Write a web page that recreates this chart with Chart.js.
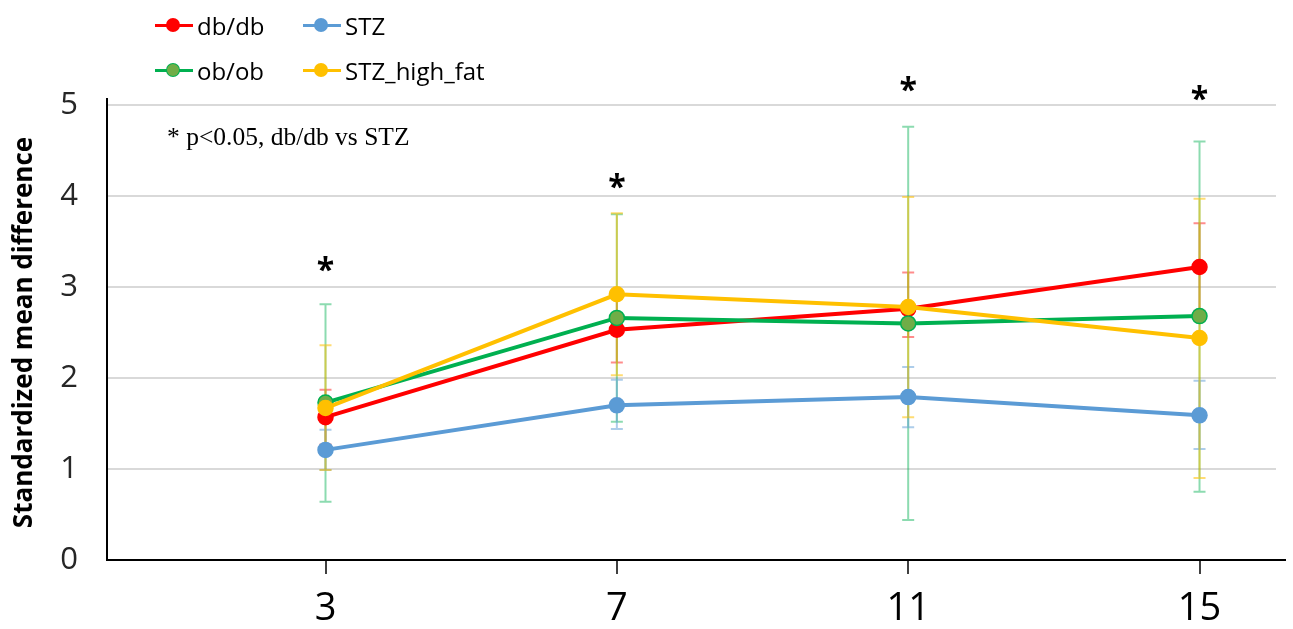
<!DOCTYPE html>
<html>
<head>
<meta charset="utf-8">
<title>Standardized mean difference by week</title>
<script src="https://cdn.jsdelivr.net/npm/chart.js@4.4.1/dist/chart.umd.min.js"></script>
<style>
  html, body { margin: 0; padding: 0; background: #fff; }
  #wrap { position: relative; width: 1293px; height: 629px; }
  #chart { position: absolute; left: 0; top: 0; }
  .leg { position: absolute; height: 34px; display: flex; align-items: center; white-space: nowrap;
         font-family: 'Open Sans', sans-serif; font-size: 24px; color: #000; }
  .leg .sw { position: relative; width: 38px; height: 14px; margin-right: 4px; }
  .leg .sw i { position: absolute; left: 0; right: 0; top: 5.5px; height: 3px; }
  .leg .sw b { position: absolute; left: 12px; top: 1px; width: 12px; height: 12px; border-radius: 50%; }
  #note { position: absolute; left: 167px; top: 122px; font-family: 'Liberation Serif', 'Times New Roman', serif;
          font-size: 25.5px; color: #000; white-space: nowrap; }
</style>
</head>
<body>
<div id="wrap">
  <canvas id="chart" width="1293" height="629"></canvas>
  <div id="legend"></div>
  <div id="note">* p&lt;0.05, db/db vs STZ</div>
</div>
<script>
// weeks after induction
const weeks = [3, 7, 11, 15];

// means and error bar ends
const dbdbMean = [1.57, 2.53, 2.76, 3.22];
const dbdbHi   = [1.87, 2.89, 3.16, 3.70];
const dbdbLo   = [1.27, 2.17, 2.45, 2.74];

const obobMean = [1.73, 2.66, 2.60, 2.68];
const obobHi   = [2.81, 3.80, 4.76, 4.60];
const obobLo   = [0.64, 1.52, 0.44, 0.75];

const stzMean  = [1.21, 1.70, 1.79, 1.59];
const stzHi    = [1.43, 1.98, 2.12, 1.97];
const stzLo    = [0.99, 1.44, 1.46, 1.22];

const hfMean   = [1.67, 2.92, 2.78, 2.44];
const hfHi     = [2.36, 3.81, 3.99, 3.97];
const hfLo     = [0.99, 2.03, 1.57, 0.90];

// significance marks (height in y units)
const starY = [3.26, 4.18, 5.24, 5.14];

const yTicks = [0, 1, 2, 3, 4, 5];

function pts(vals) {
    return vals.map((v, i) => ({ x: weeks[i], y: v }));
}

const series = [
    { label: 'db/db', mean: dbdbMean, hi: dbdbHi, lo: dbdbLo, line: '#FF0000', fill: '#FF0000', err: 'rgba(255,0,0,0.45)', order: 3 },
    { label: 'ob/ob', mean: obobMean, hi: obobHi, lo: obobLo, line: '#00B050', fill: '#70AD47', err: 'rgba(0,176,80,0.45)', order: 2 },
    { label: 'STZ', mean: stzMean, hi: stzHi, lo: stzLo, line: '#5B9BD5', fill: '#5B9BD5', err: 'rgba(91,155,213,0.5)', order: 1 },
    { label: 'STZ_high_fat', mean: hfMean, hi: hfHi, lo: hfLo, line: '#FFC000', fill: '#FFC000', err: 'rgba(255,192,0,0.55)', order: 0 }
];

// legend as html, 2 x 2 grid (db/db, STZ on top row)
const legendPos = [[155, 8], [155, 53], [303, 8], [303, 53]];
const legendBox = document.getElementById('legend');
series.forEach((s, k) => {
    const el = document.createElement('div');
    el.className = 'leg';
    el.style.left = legendPos[k][0] + 'px';
    el.style.top = legendPos[k][1] + 'px';
    el.innerHTML = '<span class="sw"><i style="background:' + s.line + '"></i><b style="background:' + s.fill +
        ';box-shadow:0 0 0 1px ' + s.line + '"></b></span>' + s.label;
    legendBox.appendChild(el);
});

const errorBars = {
    id: 'errorBars',
    beforeDatasetsDraw(chart) {
        const ctx = chart.ctx;
        const xs = chart.scales.x, ys = chart.scales.y;
        chart.data.datasets.forEach(ds => {
            ctx.save();
            ctx.strokeStyle = ds.errColor;
            ctx.lineWidth = 2;
            ds.errHi.forEach((hi, i) => {
                const x = xs.getPixelForValue(weeks[i]);
                const yh = ys.getPixelForValue(hi);
                const yl = ys.getPixelForValue(ds.errLo[i]);
                ctx.beginPath();
                ctx.moveTo(x, yh); ctx.lineTo(x, yl);
                ctx.moveTo(x - 6, yh); ctx.lineTo(x + 6, yh);
                ctx.moveTo(x - 6, yl); ctx.lineTo(x + 6, yl);
                ctx.stroke();
            });
            ctx.restore();
        });
    }
};

const extras = {
    id: 'extras',
    afterDraw(chart) {
        const ctx = chart.ctx;
        const xs = chart.scales.x, ys = chart.scales.y;
        const area = chart.chartArea;
        ctx.save();
        // axis lines run a little past the plot area
        ctx.strokeStyle = '#000';
        ctx.lineWidth = 2;
        ctx.beginPath();
        ctx.moveTo(area.right - 2, area.bottom);
        ctx.lineTo(area.right + 10, area.bottom);
        ctx.moveTo(area.left, area.top + 2);
        ctx.lineTo(area.left, area.top - 7);
        ctx.stroke();
        // asterisks
        ctx.fillStyle = '#000';
        ctx.font = 'bold 32px "Open Sans"';
        ctx.textAlign = 'center';
        ctx.textBaseline = 'alphabetic';
        starY.forEach((v, i) => {
            ctx.fillText('*', xs.getPixelForValue(weeks[i]), ys.getPixelForValue(v) + 18);
        });
        ctx.restore();
    }
};

const ctx = document.getElementById('chart').getContext('2d');
new Chart(ctx, {
    type: 'line',
    data: {
        datasets: series.map(s => ({
            label: s.label,
            data: pts(s.mean),
            borderColor: s.line,
            backgroundColor: s.fill,
            pointBackgroundColor: s.fill,
            pointBorderColor: s.line,
            pointBorderWidth: 1.5,
            pointRadius: 7.5,
            borderWidth: 4,
            tension: 0,
            order: s.order,
            errHi: s.hi,
            errLo: s.lo,
            errColor: s.err
        }))
    },
    options: {
        responsive: false,
        animation: false,
        layout: { padding: { top: 105, right: 17, left: 0, bottom: 0 } },
        plugins: {
            legend: { display: false },
            tooltip: { enabled: false }
        },
        scales: {
            x: {
                type: 'linear',
                min: 0,
                max: 16.05,
                afterBuildTicks: scale => { scale.ticks = weeks.map(w => ({ value: w })); },
                afterFit: scale => { scale.height = 69; },
                grid: { drawOnChartArea: false, tickLength: 14, color: '#404040', lineWidth: 2 },
                border: { color: '#000', width: 2 },
                ticks: {
                    color: '#000',
                    padding: 12,
                    font: { family: 'Open Sans', size: 38 },
                    autoSkip: false,
                    maxRotation: 0
                }
            },
            y: {
                min: 0,
                max: 5,
                afterBuildTicks: scale => { scale.ticks = yTicks.map(v => ({ value: v })); },
                afterFit: scale => { scale.width = 107; },
                grid: { color: '#d9d9d9', lineWidth: 2, drawTicks: false },
                border: { color: '#000', width: 2 },
                ticks: {
                    color: '#262626',
                    padding: 29,
                    font: { family: 'Open Sans', size: 31 }
                },
                title: {
                    display: true,
                    text: 'Standardized mean difference',
                    color: '#000',
                    font: { family: 'Open Sans', size: 26, weight: 'bold' },
                    padding: { top: 9, bottom: 0 }
                }
            }
        }
    },
    plugins: [errorBars, extras]
});
</script>
</body>
</html>
